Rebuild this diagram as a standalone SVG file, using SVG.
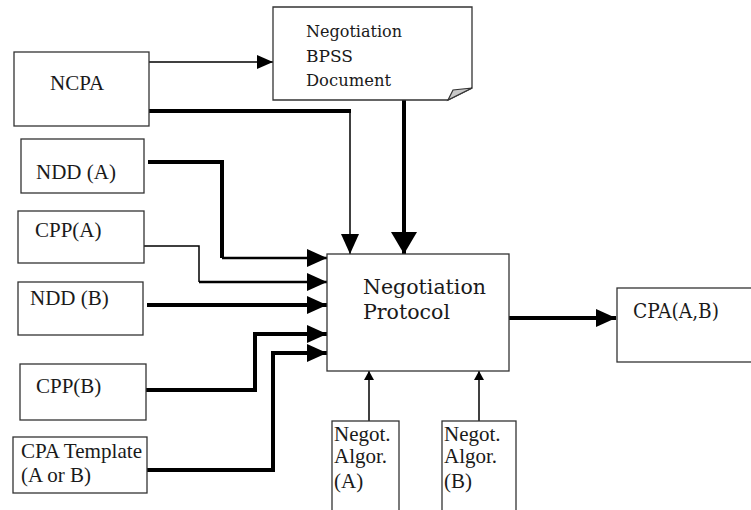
<svg xmlns="http://www.w3.org/2000/svg" width="751" height="510" viewBox="0 0 751 510">
<style>
.box{fill:#fff;stroke:#333;stroke-width:1.3}
.t{font-family:'Liberation Serif','Times New Roman',serif;font-size:21px;fill:#1a1a1a}
.w{font-family:'DejaVu Serif',serif;font-size:20.5px;fill:#1a1a1a}
.c{fill:none;stroke:#000;stroke-linejoin:miter}
.thin{stroke-width:1.5}
.mid{stroke-width:2.5}
.thick{stroke-width:4}
</style>
<defs>
<marker id="ah" markerUnits="userSpaceOnUse" markerWidth="20" markerHeight="20" viewBox="0 0 20 20" refX="20" refY="10" orient="auto"><path d="M0,1 L20,10 L0,19 z" fill="#000"/></marker>
<marker id="ahBig" markerUnits="userSpaceOnUse" markerWidth="22" markerHeight="28" viewBox="0 0 22 28" refX="22" refY="14" orient="auto"><path d="M0,1 L22,14 L0,27 z" fill="#000"/></marker>
<marker id="ahMed" markerUnits="userSpaceOnUse" markerWidth="16" markerHeight="16" viewBox="0 0 16 16" refX="16" refY="8" orient="auto"><path d="M0,1 L16,8 L0,15 z" fill="#000"/></marker>
<marker id="ahSm" markerUnits="userSpaceOnUse" markerWidth="9" markerHeight="11" viewBox="0 0 9 11" refX="9" refY="5.5" orient="auto"><path d="M0,0.5 L9,5.5 L0,10.5 z" fill="#000"/></marker>
</defs>
<rect width="751" height="510" fill="#fff"/>

<g id="connectors">
<path class="c thin" d="M147,62 H273" marker-end="url(#ahMed)"/>
<path class="c thick" d="M149,111 H351"/>
<path class="c thin" d="M350,111 V254" marker-end="url(#ah)"/>
<path class="c thick" d="M404,100 V254" marker-end="url(#ahBig)"/>
<path class="c thick" d="M148,162 H222 V258"/>
<path class="c mid" d="M222,258 H327" marker-end="url(#ah)"/>
<path class="c thin" d="M144,246 H199 V282"/>
<path class="c mid" d="M199,282 H327" marker-end="url(#ah)"/>
<path class="c thick" d="M147,305 H327" marker-end="url(#ah)"/>
<path class="c thick" d="M146,390 H255 V334 H327" marker-end="url(#ah)"/>
<path class="c thick" d="M147,470 H273 V353 H327" marker-end="url(#ah)"/>
<path class="c thick" d="M509,318 H616" marker-end="url(#ah)"/>
<path class="c thin" d="M369,421 V371" marker-end="url(#ahSm)"/>
<path class="c thin" d="M479,421 V371" marker-end="url(#ahSm)"/>
</g>

<g id="ncpa">
<rect class="box" x="14" y="52" width="135" height="74"/>
<text class="t" x="50" y="90">NCPA</text>
</g>

<g id="bpss">
<path class="box" d="M273,7 H472 V88 L448,100 H273 Z"/>
<path d="M448,100 L453,90 L472,88 Z" fill="#c8c8c8" stroke="#333" stroke-width="1.2"/>
<text class="w" style="font-size:16.5px" x="306" y="37" textLength="96" lengthAdjust="spacingAndGlyphs">Negotiation</text>
<text class="w" style="font-size:16.5px" x="306" y="62" textLength="47" lengthAdjust="spacingAndGlyphs">BPSS</text>
<text class="w" style="font-size:16.5px" x="306" y="86" textLength="85" lengthAdjust="spacingAndGlyphs">Document</text>
</g>

<g id="ndda">
<rect class="box" x="21" y="139" width="123" height="54"/>
<text class="t" x="36" y="179">NDD (A)</text>
</g>

<g id="cppa">
<rect class="box" x="18" y="211" width="126" height="52"/>
<text class="t" x="35" y="237">CPP(A)</text>
</g>

<g id="nddb">
<rect class="box" x="18" y="282" width="125" height="53"/>
<text class="t" x="30" y="305">NDD (B)</text>
</g>

<g id="cppb">
<rect class="box" x="20" y="364" width="126" height="56"/>
<text class="t" x="36" y="393">CPP(B)</text>
</g>

<g id="cpatemplate">
<rect class="box" x="13" y="437" width="134" height="56"/>
<text class="t" x="21" y="458" textLength="121" lengthAdjust="spacingAndGlyphs">CPA Template</text>
<text class="t" x="21" y="482">(A or B)</text>
</g>

<g id="protocol">
<rect class="box" x="327" y="254" width="182" height="117"/>
<text class="w" x="363" y="294" textLength="123" lengthAdjust="spacingAndGlyphs">Negotiation</text>
<text class="w" x="363" y="319" textLength="87" lengthAdjust="spacingAndGlyphs">Protocol</text>
</g>

<g id="cpaab">
<rect class="box" x="617" y="288" width="140" height="74"/>
<text class="w" x="633" y="318" textLength="86" lengthAdjust="spacingAndGlyphs">CPA(A,B)</text>
</g>

<g id="algora">
<rect class="box" x="332" y="421" width="67" height="95"/>
<text class="t" x="334" y="441">Negot.</text>
<text class="t" x="334" y="463">Algor.</text>
<text class="t" x="334" y="488">(A)</text>
</g>

<g id="algorb">
<rect class="box" x="442" y="421" width="74" height="95"/>
<text class="t" x="444" y="441">Negot.</text>
<text class="t" x="444" y="463">Algor.</text>
<text class="t" x="444" y="488">(B)</text>
</g>
</svg>
